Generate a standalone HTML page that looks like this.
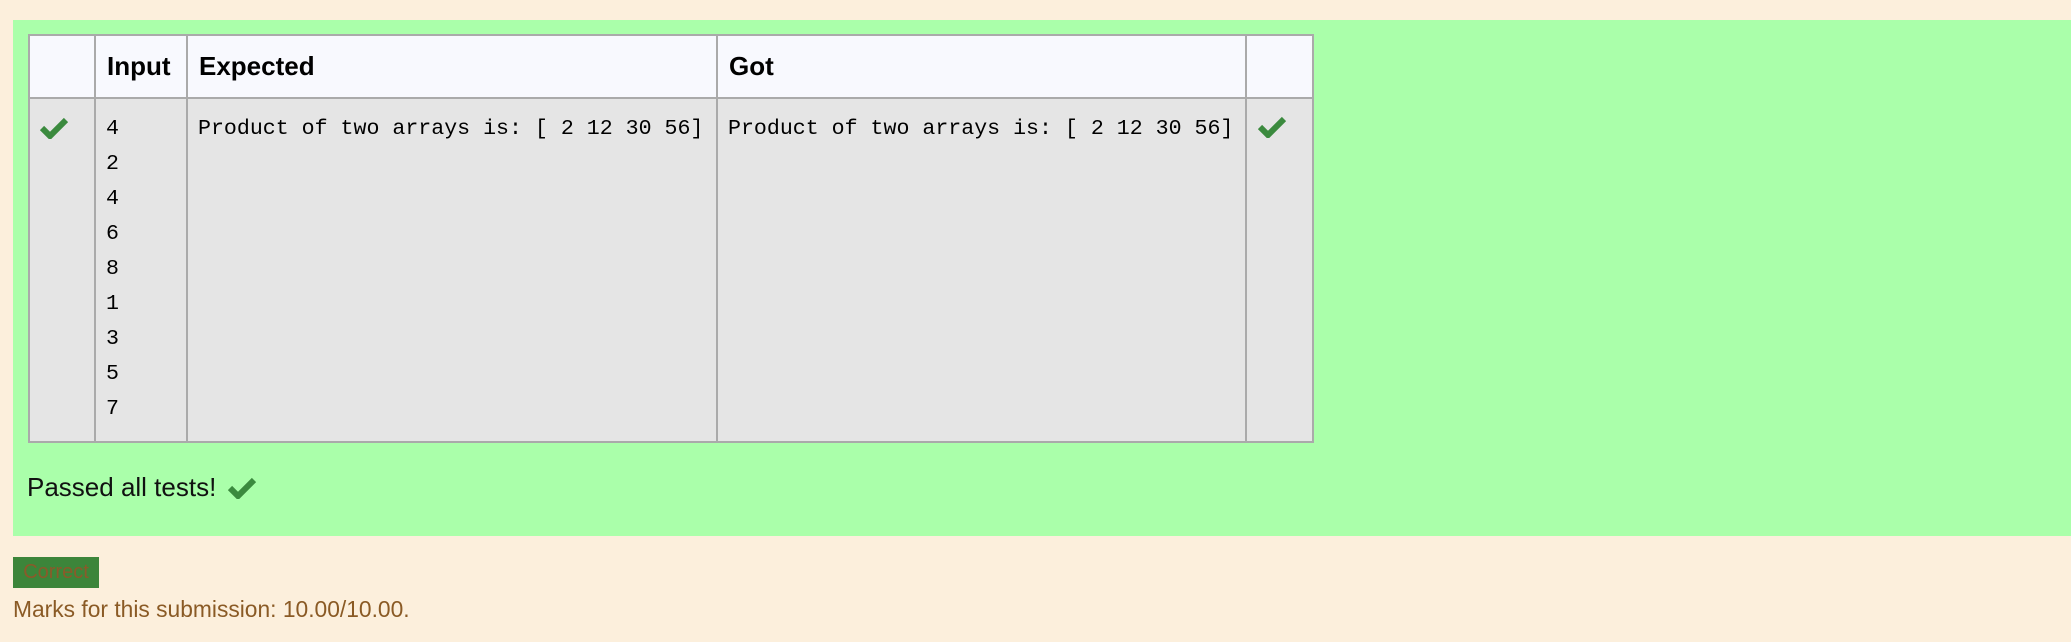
<!DOCTYPE html>
<html><head><meta charset="utf-8"><style>
body{margin:0;width:2071px;height:642px;background:#fcefdc;position:relative;overflow:hidden;font-family:"Liberation Sans",sans-serif}
.abs{position:absolute}
.green{left:13px;top:20px;width:2058px;height:516px;background:#aaffaa}
table{position:absolute;left:28px;top:34px;border-collapse:collapse}
td,th{border:2px solid #aaa;padding:0;vertical-align:top;text-align:left}
th{background:#f8f9fe;height:63px;font-size:26px;font-weight:bold;padding-left:11px;vertical-align:middle;box-sizing:border-box}
td{background:#e5e5e5;height:344px;box-sizing:border-box}
.mono{font-family:"Liberation Mono",monospace;font-size:21.6px;line-height:35px;padding:13px 0 0 10px;white-space:pre}
</style></head><body>
<div class="abs green"></div>
<table>
<tr><th style="width:66px"></th><th style="width:92px">Input</th><th style="width:530px">Expected</th><th style="width:529px">Got</th><th style="width:67px"></th></tr>
<tr><td></td><td class="mono">4
2
4
6
8
1
3
5
7</td><td class="mono">Product of two arrays is: [ 2 12 30 56]</td><td class="mono">Product of two arrays is: [ 2 12 30 56]</td><td></td></tr>
</table>
<svg class="abs" style="left:40px;top:117px" width="28" height="22" viewBox="0 0 28 22"><path d="M2 11 L10 19 L26 3" stroke="#3b8a3e" stroke-width="6" fill="none"/></svg>
<svg class="abs" style="left:1258px;top:116px" width="28" height="22" viewBox="0 0 28 22"><path d="M2 11 L10 19 L26 3" stroke="#3b8a3e" stroke-width="6" fill="none"/></svg>
<div class="abs" style="left:27px;top:472px;font-size:26px;color:#111">Passed all tests!</div>
<svg class="abs" style="left:228px;top:477px" width="28" height="22" viewBox="0 0 28 22"><path d="M2 11 L10 19 L26 3" stroke="#3b8a3e" stroke-width="6" fill="none"/></svg>
<div class="abs" style="left:13px;top:557px;width:86px;height:31px;background:#3c853a;color:#8a5a2a;font-size:20px;line-height:31px;text-align:center">Correct</div>
<div class="abs" style="left:13px;top:596px;font-size:22.8px;color:#8a5a25">Marks for this submission: 10.00/10.00.</div>
</body></html>
